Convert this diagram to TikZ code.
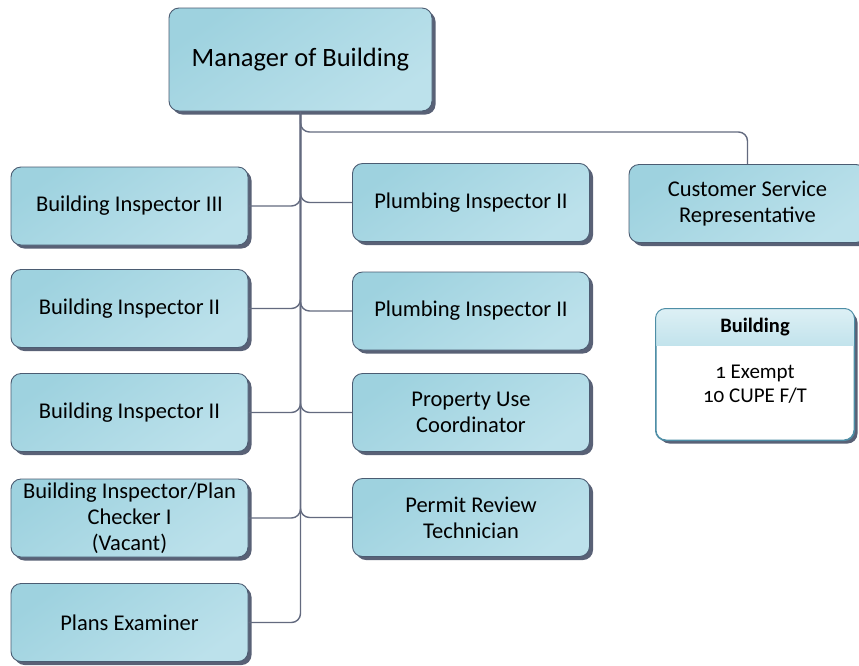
\documentclass[tikz,border=0pt]{standalone}
\usepackage{fontspec}
\setmainfont[Numbers=OldStyle]{Carlito}
\usetikzlibrary{shadows}
\definecolor{boxdark}{HTML}{9ED2DF}
\definecolor{boxlight}{HTML}{BCE1EB}
\definecolor{boxedge}{HTML}{4B5C72}
\definecolor{shadowc}{HTML}{596176}
\definecolor{linec}{HTML}{636A7F}
\definecolor{legedge}{HTML}{4E8EA6}
\definecolor{leghead}{HTML}{C2E3EC}
\definecolor{legheadl}{HTML}{DDF0F5}
\tikzset{
  box/.style={draw=boxedge, line width=0.9pt, rounded corners=10pt,
    top color=boxdark, middle color=boxdark, bottom color=boxlight, shading angle=35,
    minimum width=237pt, minimum height=78pt, align=center,
    font=\fontsize{22.5}{26}\selectfont, inner sep=2pt,
    drop shadow={shadow xshift=3.5pt, shadow yshift=-3.5pt, fill=shadowc, opacity=1}},
  link/.style={draw=linec, line width=1.4pt, rounded corners=9pt}
}
\begin{document}
\begin{tikzpicture}[x=1pt,y=-1pt]
\useasboundingbox (0,0) rectangle (859,665);
\clip (0,0) rectangle (859,665);
\fill[white] (0,0) rectangle (859,665);

% top position
\node[box, minimum width=263pt, minimum height=103pt, font=\fontsize{26.5}{30}\selectfont]
  (mgr) at (300.5,59.5) {Manager of Building};

% left column
\node[box] (bi3)  at (129.5,206)   {Building Inspector III};
\node[box] (bi2a) at (129.5,308.5) {Building Inspector II};
\node[box] (bi2b) at (129.5,412.5) {Building Inspector II};
\node[box] (bipc) at (129.5,518)   {Building Inspector/Plan\\Checker I\\(Vacant)};
\node[box] (pe)   at (129.5,622.5) {Plans Examiner};

% right column
\node[box] (pi1)  at (471,202.5) {Plumbing Inspector II};
\node[box] (pi2)  at (471,311)   {Plumbing Inspector II};
\node[box] (puc)  at (471,412.5) {Property Use\\Coordinator};
\node[box] (prt)  at (471,517.5) {Permit Review\\Technician};

% direct report at the far right
\node[box] (csr) at (747.5,203.5) {Customer Service\\Representative};

% connectors
\coordinate (bend) at (747.5,132);
\draw[link] (mgr.south) |- (bend) -- (csr.north);
\foreach \n in {bi3,bi2a,bi2b,bipc,pe}
  \draw[link] (mgr.south) |- (\n.east);
\foreach \n in {pi1,pi2,puc,prt}
  \draw[link] (mgr.south) |- (\n.west);

% staffing summary
\node[draw=legedge, line width=1pt, rounded corners=10pt, fill=white,
  minimum width=198pt, minimum height=131pt,
  drop shadow={shadow xshift=3.5pt, shadow yshift=-3.5pt, fill=shadowc, opacity=1}]
  (leg) at (755,374.5) {};
\begin{scope}
\clip[rounded corners=10pt] (leg.north west) rectangle (leg.south east);
\shade[top color=legheadl, bottom color=leghead]
  (leg.north west) rectangle ([yshift=-37pt]leg.north east);
\end{scope}
\draw[legedge, line width=1pt, rounded corners=10pt] (leg.north west) rectangle (leg.south east);
\node[font=\bfseries\fontsize{20.5}{24}\selectfont] (legt) at (755,327.5) {Building};
\node[align=center, font=\fontsize{21}{24}\selectfont] (legb) at (755,384) {1 Exempt\\10 CUPE F/T};
\end{tikzpicture}
\end{document}
